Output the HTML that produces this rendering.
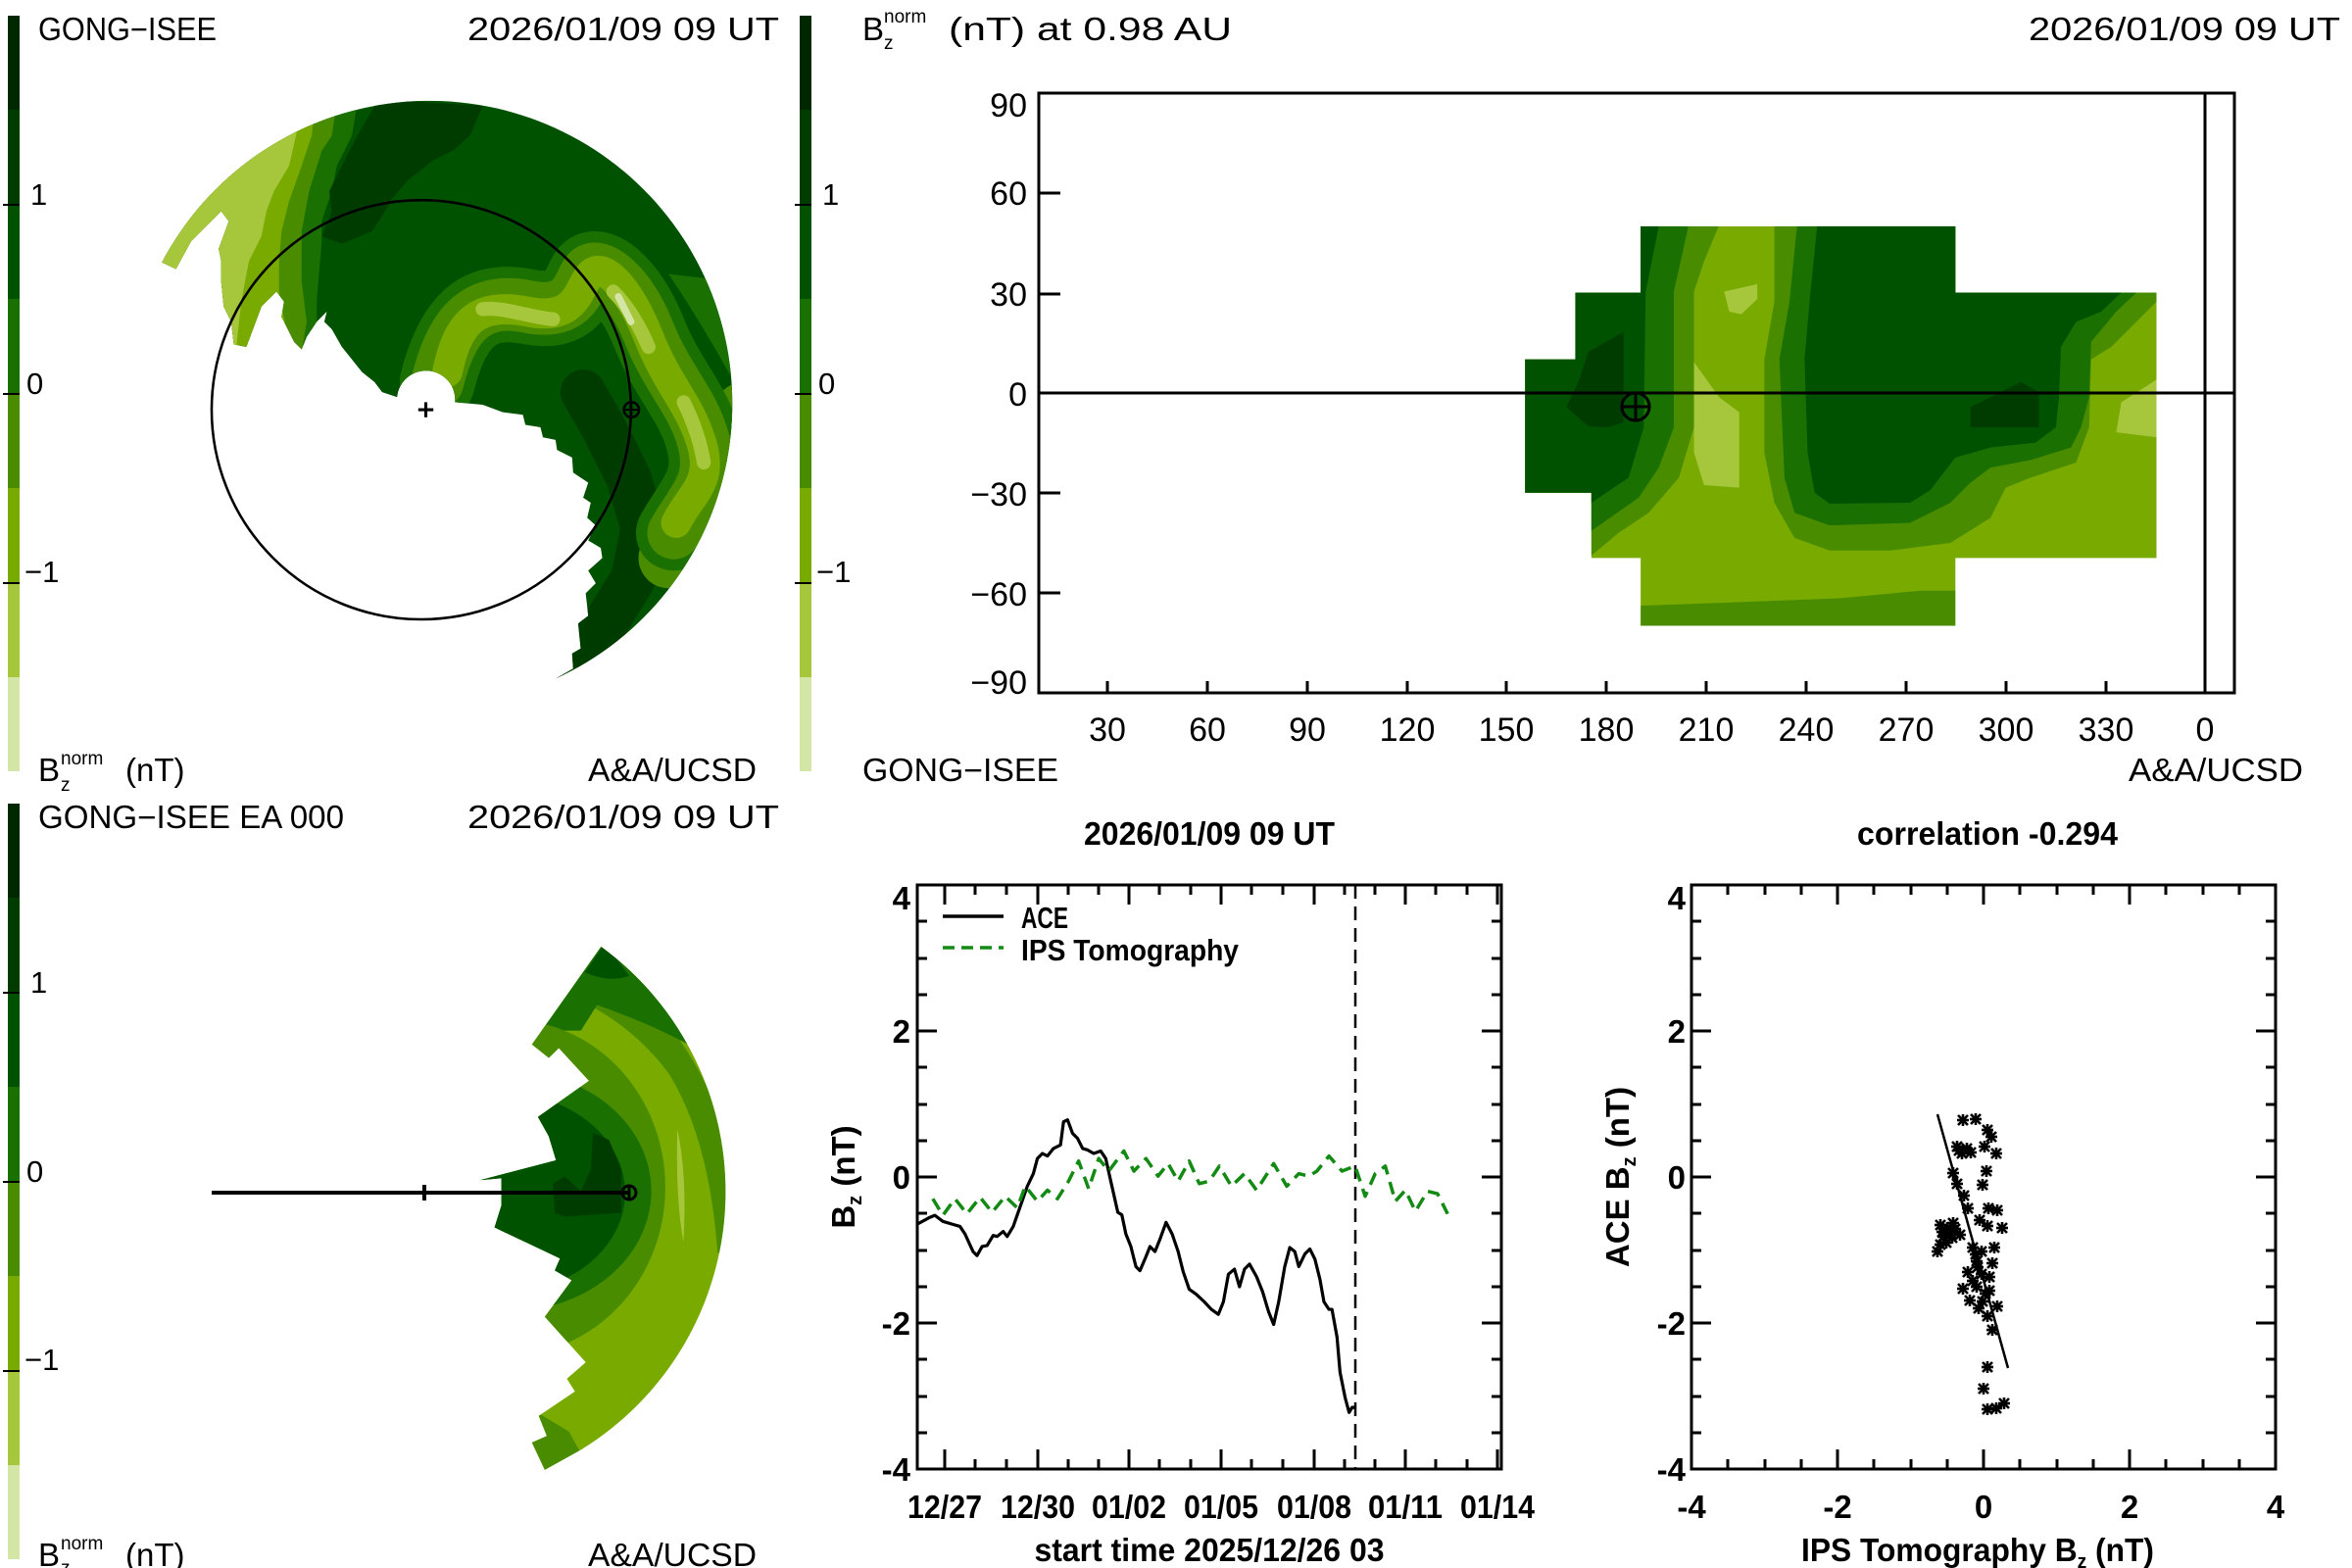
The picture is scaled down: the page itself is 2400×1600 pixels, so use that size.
<!DOCTYPE html>
<html><head><meta charset="utf-8"><style>html,body{margin:0;padding:0;background:#fff}svg{display:block}</style></head>
<body>
<svg xmlns="http://www.w3.org/2000/svg" xmlns:xlink="http://www.w3.org/1999/xlink" width="2400" height="1600" viewBox="0 0 2400 1600" font-family="Liberation Sans, sans-serif">
<defs>
<g id="cbar">
<rect x="8" y="16" width="12" height="97" fill="#002800"/>
<rect x="8" y="112" width="12" height="97" fill="#003c00"/>
<rect x="8" y="209" width="12" height="97" fill="#005200"/>
<rect x="8" y="305" width="12" height="97" fill="#1a7000"/>
<rect x="8" y="402" width="12" height="97" fill="#4a8c00"/>
<rect x="8" y="498" width="12" height="97" fill="#78aa00"/>
<rect x="8" y="595" width="12" height="97" fill="#a6c63c"/>
<rect x="8" y="691" width="12" height="96" fill="#d4e6a6"/>
<g stroke="#000" stroke-width="2"><line x1="3" y1="209" x2="20" y2="209"/><line x1="3" y1="402" x2="20" y2="402"/><line x1="3" y1="595" x2="20" y2="595"/></g>
<g font-size="31" fill="#000"><text x="31" y="209">1</text><text x="27" y="402">0</text><text x="25" y="594">−1</text></g>
</g>
<clipPath id="tlclip"><path d="M322,522 A602,602 0 1 1 1105,1350 L1140,1330 1138,1300 1155,1290 1150,1240 1170,1225 1165,1180 1185,1160 1170,1135 1198,1110 1195,1090 1170,1075 1185,1045 1168,1030 1175,1000 1160,990 1170,960 1140,940 1138,910 1108,895 1105,875 1080,870 1075,850 1045,845 1040,825 1000,820 960,805 905,800 A57,57 0 0 0 790,790 L760,780 745,760 720,740 700,715 680,690 660,655 645,640 650,620 630,640 610,670 600,695 585,680 575,660 560,630 565,600 550,580 520,610 490,690 465,685 460,640 445,610 440,560 440,520 435,495 455,440 440,420 420,440 380,480 350,535 Z"/></clipPath>
<clipPath id="trclip"><path d="M737,715 H787 V582 H852 V450 H1165 V582 H1365 V1110 H1165 V1245 H852 V1110 H803 V980 H737 Z"/></clipPath>
<clipPath id="blclip"><path d="M1130,70 A754,831 0 0 1 1080,1450 L990,1505 958,1430 995,1412 975,1357 1065,1290 1045,1255 1092,1210 990,1085 1057,985 1015,958 1028,925 865,840 882,780 882,705 830,710 1018,656 1000,590 973,537 1100,438 1025,348 1000,375 958,338 Z"/></clipPath>
<g id="ast" stroke="#000" stroke-width="2.6"><line x1="-5" y1="-5" x2="5" y2="5"/><line x1="-5" y1="5" x2="5" y2="-5"/><line x1="-6" y1="0" x2="6" y2="0"/><line x1="0" y1="-6" x2="0" y2="6"/></g>
</defs>

<!-- ============ TOP LEFT ============ -->
<use xlink:href="#cbar"/>
<g font-size="33" fill="#000">
<text x="39" y="41" textLength="182" lengthAdjust="spacingAndGlyphs">GONG−ISEE</text>
<text x="477" y="41" textLength="318" lengthAdjust="spacingAndGlyphs">2026/01/09 09 UT</text>
<text x="39" y="797">B</text><text x="62" y="780" font-size="19">norm</text><text x="62" y="807" font-size="19">z</text>
<text x="128" y="797">(nT)</text>
<text x="600" y="797" textLength="172" lengthAdjust="spacingAndGlyphs">A&amp;A/UCSD</text>
</g>
<g transform="scale(0.513)">
<g clip-path="url(#tlclip)">
<rect x="0" y="0" width="1560" height="1560" fill="#005200"/>
<path d="M0,0 H745 L700,270 670,330 660,380 640,440 640,480 630,600 V1560 H0Z" fill="#1a7000"/>
<path d="M0,0 H700 L660,270 640,300 615,380 600,460 600,560 610,640 600,700 V1560 H0Z" fill="#4a8c00"/>
<path d="M0,0 H650 L620,270 600,330 575,400 560,460 555,520 555,580 570,660 V1560 H0Z" fill="#78aa00"/>
<path d="M0,0 H560 L590,265 575,330 545,380 530,420 520,470 495,520 480,600 470,690 V1560 H0Z" fill="#a6c63c"/>
<path d="M790,200 L960,210 935,270 900,300 860,320 810,360 780,395 760,430 740,460 680,485 640,470 660,420 655,380 680,330 700,290 745,210Z" fill="#003c00"/>
<path d="M1330,545 Q1400,650 1460,760 L1460,560Z" fill="#1a7000"/>
<g fill="none" stroke-linecap="round" stroke-linejoin="round">
<path d="M1160,780 L1200,850 1250,950 1280,1050 1260,1150 1180,1280 1140,1330" stroke="#003c00" stroke-width="90"/>
<path d="M1480,820 Q1430,1000 1330,1110" stroke="#4a8c00" stroke-width="120"/>
<path d="M1460,880 Q1400,1000 1320,1080" stroke="#78aa00" stroke-width="60"/>
<path d="M870,760 C900,640 950,590 1050,610 S1150,560 1170,540 S1250,560 1290,660 S1380,800 1400,880 S1380,990 1340,1060" stroke="#1a7000" stroke-width="150"/>
<path d="M870,760 C900,640 950,590 1050,610 S1150,560 1170,540 S1250,560 1290,660 S1380,800 1400,880 S1380,990 1340,1060" stroke="#4a8c00" stroke-width="105"/>
<path d="M890,740 C910,640 950,600 1050,620 S1150,570 1175,545 S1250,570 1290,670 S1370,800 1395,880 S1375,980 1345,1040" stroke="#78aa00" stroke-width="60"/>
<path d="M960,615 C1000,610 1050,630 1100,635 M1220,580 Q1260,620 1290,690 M1360,800 Q1390,860 1400,920" stroke="#a6c63c" stroke-width="28"/>
<path d="M1230,590 L1255,640" stroke="#d4e6a6" stroke-width="14"/>
</g>
</g>
<circle cx="838" cy="815" r="417" fill="none" stroke="#000" stroke-width="5"/>
<g stroke="#000" stroke-width="6"><line x1="832" y1="815" x2="862" y2="815"/><line x1="847" y1="800" x2="847" y2="830"/></g>
<circle cx="1256" cy="815" r="15" fill="none" stroke="#000" stroke-width="5"/>
<g stroke="#000" stroke-width="4"><line x1="1240" y1="815" x2="1272" y2="815"/><line x1="1256" y1="799" x2="1256" y2="831"/></g>
</g>

<!-- ============ TOP RIGHT ============ -->
<g transform="translate(808,0)"><use xlink:href="#cbar"/></g>
<g font-size="33" fill="#000">
<text x="880" y="41">B</text><text x="902" y="23" font-size="19">norm</text><text x="902" y="50" font-size="19">z</text>
<text x="968" y="41" textLength="289" lengthAdjust="spacingAndGlyphs">(nT) at 0.98 AU</text>
<text x="2070" y="41" textLength="318" lengthAdjust="spacingAndGlyphs">2026/01/09 09 UT</text>
<text x="880" y="797" textLength="200" lengthAdjust="spacingAndGlyphs">GONG−ISEE</text>
<text x="2172" y="797" textLength="178" lengthAdjust="spacingAndGlyphs">A&amp;A/UCSD</text>
</g>
<g transform="translate(800,0) scale(1.026,0.513)">
<g clip-path="url(#trclip)">
<rect x="700" y="400" width="700" height="900" fill="#78aa00"/>
<path d="M700,400 H940 L915,520 905,580 905,850 890,950 860,1020 830,1060 800,1110 H700Z" fill="#4a8c00"/>
<path d="M700,400 H905 L885,580 885,850 870,930 850,990 800,1060 H700Z" fill="#1a7000"/>
<path d="M700,400 H870 L870,450 857,580 855,850 840,950 803,1000 H700Z" fill="#005200"/>
<path d="M778,810 L790,760 800,700 835,660 835,840 820,850 800,848Z" fill="#003c00"/>
<path d="M905,720 L930,790 950,820 950,970 915,965 905,900Z M935,580 L968,565 968,595 952,625 940,620Z" fill="#a6c63c"/>
<path d="M985,400 H1400 L1365,600 1340,650 1320,690 1300,715 1298,850 1285,920 1240,950 1215,970 1200,1030 1160,1080 1100,1095 1040,1095 1005,1070 985,1000 975,900 975,715 985,600Z" fill="#4a8c00"/>
<path d="M1010,400 H1400 L1345,582 1325,620 1300,680 1298,790 1290,850 1280,890 1240,915 1200,930 1180,960 1160,1000 1120,1040 1040,1045 1005,1020 995,950 990,715 1000,600Z" fill="#1a7000"/>
<path d="M1030,400 H1400 L1330,582 1310,620 1285,640 1270,690 1268,790 1265,850 1245,880 1200,890 1165,910 1140,975 1120,1000 1040,1002 1025,980 1018,900 1015,715 1020,600Z" fill="#005200"/>
<path d="M1180,850 L1180,810 1200,790 1230,760 1248,780 1248,850Z" fill="#003c00"/>
<path d="M1330,800 L1365,755 1365,870 1325,860Z" fill="#a6c63c"/>
<path d="M852,1205 L1050,1190 1130,1175 1165,1175 1165,1245 852,1245Z" fill="#4a8c00"/>
</g>
</g>
<!-- axes box -->
<g stroke="#000" fill="none">
<rect x="1060" y="95" width="1220" height="612" stroke-width="3"/>
<line x1="2250" y1="95" x2="2250" y2="707" stroke-width="3"/>
<line x1="1060" y1="401" x2="2280" y2="401" stroke-width="3"/>
<g stroke-width="3">
<line x1="1060" y1="197" x2="1082" y2="197"/><line x1="1060" y1="300" x2="1082" y2="300"/><line x1="1060" y1="401" x2="1082" y2="401"/><line x1="1060" y1="503" x2="1082" y2="503"/><line x1="1060" y1="605" x2="1082" y2="605"/>
<line x1="1130" y1="707" x2="1130" y2="695"/><line x1="1232" y1="707" x2="1232" y2="695"/><line x1="1334" y1="707" x2="1334" y2="695"/><line x1="1436" y1="707" x2="1436" y2="695"/><line x1="1537" y1="707" x2="1537" y2="695"/><line x1="1639" y1="707" x2="1639" y2="695"/><line x1="1741" y1="707" x2="1741" y2="695"/><line x1="1843" y1="707" x2="1843" y2="695"/><line x1="1945" y1="707" x2="1945" y2="695"/><line x1="2047" y1="707" x2="2047" y2="695"/><line x1="2149" y1="707" x2="2149" y2="695"/><line x1="2250" y1="707" x2="2250" y2="695"/>
</g>
<circle cx="1669" cy="415" r="14" stroke-width="3"/>
<line x1="1655" y1="415" x2="1683" y2="415" stroke-width="3"/><line x1="1669" y1="401" x2="1669" y2="429" stroke-width="3"/>
</g>
<g font-size="34" fill="#000" text-anchor="end">
<text x="1048" y="119">90</text><text x="1048" y="209">60</text><text x="1048" y="312">30</text><text x="1048" y="414">0</text><text x="1048" y="516">−30</text><text x="1048" y="618">−60</text><text x="1048" y="708">−90</text>
</g>
<g font-size="34" fill="#000" text-anchor="middle">
<text x="1130" y="756">30</text><text x="1232" y="756">60</text><text x="1334" y="756">90</text><text x="1436" y="756">120</text><text x="1537" y="756">150</text><text x="1639" y="756">180</text><text x="1741" y="756">210</text><text x="1843" y="756">240</text><text x="1945" y="756">270</text><text x="2047" y="756">300</text><text x="2149" y="756">330</text><text x="2250" y="756">0</text>
</g>

<!-- ============ BOTTOM LEFT ============ -->
<g transform="translate(0,804)"><use xlink:href="#cbar"/></g>
<g font-size="33" fill="#000">
<text x="39" y="845" textLength="312" lengthAdjust="spacingAndGlyphs">GONG−ISEE EA 000</text>
<text x="477" y="845" textLength="318" lengthAdjust="spacingAndGlyphs">2026/01/09 09 UT</text>
<text x="39" y="1598">B</text><text x="62" y="1581" font-size="19">norm</text><text x="62" y="1606" font-size="19">z</text>
<text x="128" y="1598">(nT)</text>
<text x="600" y="1598" textLength="172" lengthAdjust="spacingAndGlyphs">A&amp;A/UCSD</text>
</g>
<g transform="translate(150,940) scale(0.41,0.372)">
<g clip-path="url(#blclip)">
<rect x="800" y="0" width="700" height="1560" fill="#78aa00"/>
<path d="M1150,120 Q1380,330 1440,600 L1450,900 1420,910 Q1400,600 1300,420 Q1220,300 1100,230Z" fill="#4a8c00"/>
<path d="M900,0 H1500 L1350,340 Q1250,280 1120,230 L1080,300 900,300Z" fill="#1a7000"/>
<path d="M1090,140 Q1150,170 1200,150 L1140,60Z" fill="#005200"/>
<ellipse cx="900" cy="730" rx="390" ry="460" fill="#4a8c00"/>
<ellipse cx="900" cy="740" rx="355" ry="330" fill="#1a7000"/>
<ellipse cx="880" cy="745" rx="310" ry="275" fill="#005200"/>
<path d="M1010,720 L1040,700 1080,740 1105,680 1110,580 1150,600 1180,680 1180,800 1040,810 1015,800Z" fill="#003c00"/>
<path d="M1320,570 Q1345,700 1335,880 Q1315,760 1320,570Z" fill="#a6c63c"/>
<path d="M960,1340 L1050,1400 1080,1460 990,1510 950,1420Z" fill="#4a8c00"/>
</g>
</g>
<line x1="216" y1="1217" x2="642" y2="1217" stroke="#000" stroke-width="4"/>
<line x1="433" y1="1209" x2="433" y2="1225" stroke="#000" stroke-width="4"/>
<circle cx="642" cy="1217" r="7" fill="none" stroke="#000" stroke-width="3"/>
<line x1="642" y1="1210" x2="642" y2="1224" stroke="#000" stroke-width="3"/>

<!-- ============ BOTTOM MIDDLE: time series ============ -->
<g fill="#000" font-weight="bold" font-size="33">
<text x="1234" y="862" text-anchor="middle" textLength="256" lengthAdjust="spacingAndGlyphs">2026/01/09 09 UT</text>
<text x="2028" y="862" text-anchor="middle" textLength="266" lengthAdjust="spacingAndGlyphs">correlation -0.294</text>
<text x="1234" y="1593" text-anchor="middle" textLength="357" lengthAdjust="spacingAndGlyphs">start time 2025/12/26 03</text>
<text x="1838" y="1593" textLength="360" lengthAdjust="spacingAndGlyphs">IPS Tomography B<tspan font-size="20" dy="7">z</tspan><tspan dy="-7"> (nT)</tspan></text>
<g text-anchor="end">
<text x="929" y="928">4</text><text x="929" y="1064">2</text><text x="929" y="1213">0</text><text x="929" y="1362">-2</text><text x="929" y="1511">-4</text>
<text x="1720" y="928">4</text><text x="1720" y="1064">2</text><text x="1720" y="1213">0</text><text x="1720" y="1362">-2</text><text x="1720" y="1511">-4</text>
</g>
<g text-anchor="middle">
<text x="964" y="1549" textLength="76" lengthAdjust="spacingAndGlyphs">12/27</text>
<text x="1059" y="1549" textLength="76" lengthAdjust="spacingAndGlyphs">12/30</text>
<text x="1152" y="1549" textLength="76" lengthAdjust="spacingAndGlyphs">01/02</text>
<text x="1246" y="1549" textLength="76" lengthAdjust="spacingAndGlyphs">01/05</text>
<text x="1341" y="1549" textLength="76" lengthAdjust="spacingAndGlyphs">01/08</text>
<text x="1434" y="1549" textLength="76" lengthAdjust="spacingAndGlyphs">01/11</text>
<text x="1528" y="1549" textLength="76" lengthAdjust="spacingAndGlyphs">01/14</text>
<text x="1726" y="1549">-4</text><text x="1875" y="1549">-2</text><text x="2024" y="1549">0</text><text x="2173" y="1549">2</text><text x="2322" y="1549">4</text>
</g>
<text transform="translate(872,1201) rotate(-90)" text-anchor="middle">B<tspan font-size="20" dy="7">z</tspan><tspan dy="-7"> (nT)</tspan></text>
<text transform="translate(1662,1201) rotate(-90)" text-anchor="middle">ACE B<tspan font-size="20" dy="7">z</tspan><tspan dy="-7"> (nT)</tspan></text>
<text x="1042" y="947" font-size="31" textLength="48" lengthAdjust="spacingAndGlyphs">ACE</text>
<text x="1042" y="980" font-size="31" textLength="222" lengthAdjust="spacingAndGlyphs">IPS Tomography</text>
</g>
<line x1="962" y1="935" x2="1024" y2="935" stroke="#000" stroke-width="3.5"/>
<line x1="962" y1="967" x2="1024" y2="967" stroke="#138a13" stroke-width="3.5" stroke-dasharray="12,7"/>

<g fill="none" stroke="#000" stroke-width="3">
<rect x="936" y="903" width="596" height="596"/>
<rect x="1726" y="903" width="596" height="596"/>
<!-- left plot y ticks -->
<path d="M936,903h20M936,1052h20M936,1201h20M936,1350h20M936,1499h20 M936,940h10M936,978h10M936,1015h10M936,1089h10M936,1127h10M936,1164h10M936,1238h10M936,1276h10M936,1313h10M936,1387h10M936,1425h10M936,1462h10
M1532,903h-20M1532,1052h-20M1532,1201h-20M1532,1350h-20M1532,1499h-20 M1532,940h-10M1532,978h-10M1532,1015h-10M1532,1089h-10M1532,1127h-10M1532,1164h-10M1532,1238h-10M1532,1276h-10M1532,1313h-10M1532,1387h-10M1532,1425h-10M1532,1462h-10"/>
<path d="M964,1499v-20M1059,1499v-20M1152,1499v-20M1246,1499v-20M1341,1499v-20M1434,1499v-20M1528,1499v-20
M964,903v20M1059,903v20M1152,903v20M1246,903v20M1341,903v20M1434,903v20M1528,903v20
M995,1499v-10M1027,1499v-10M1090,1499v-10M1121,1499v-10M1183,1499v-10M1215,1499v-10M1277,1499v-10M1309,1499v-10M1372,1499v-10M1403,1499v-10M1465,1499v-10M1497,1499v-10
M995,903v10M1027,903v10M1090,903v10M1121,903v10M1183,903v10M1215,903v10M1277,903v10M1309,903v10M1372,903v10M1403,903v10M1465,903v10M1497,903v10"/>
<!-- right plot ticks -->
<path d="M1726,903h20M1726,1052h20M1726,1201h20M1726,1350h20M1726,1499h20 M1726,940h10M1726,978h10M1726,1015h10M1726,1089h10M1726,1127h10M1726,1164h10M1726,1238h10M1726,1276h10M1726,1313h10M1726,1387h10M1726,1425h10M1726,1462h10
M2322,903h-20M2322,1052h-20M2322,1201h-20M2322,1350h-20M2322,1499h-20 M2322,940h-10M2322,978h-10M2322,1015h-10M2322,1089h-10M2322,1127h-10M2322,1164h-10M2322,1238h-10M2322,1276h-10M2322,1313h-10M2322,1387h-10M2322,1425h-10M2322,1462h-10"/>
<path d="M1875,1499v-20M2024,1499v-20M2173,1499v-20M1875,903v20M2024,903v20M2173,903v20
M1763,1499v-10M1801,1499v-10M1838,1499v-10M1912,1499v-10M1950,1499v-10M1987,1499v-10M2061,1499v-10M2099,1499v-10M2136,1499v-10M2210,1499v-10M2248,1499v-10M2285,1499v-10
M1763,903v10M1801,903v10M1838,903v10M1912,903v10M1950,903v10M1987,903v10M2061,903v10M2099,903v10M2136,903v10M2210,903v10M2248,903v10M2285,903v10"/>
</g>
<line x1="1383" y1="903" x2="1383" y2="1499" stroke="#000" stroke-width="2.5" stroke-dasharray="14,8"/>

<g transform="translate(800,800) scale(1.026,0.513)" fill="none" stroke-linejoin="round">
<polyline vector-effect="non-scaling-stroke" stroke="#000" stroke-width="3.2" points="133,875 145,862 150,858 158,870 168,876 175,880 180,895 188,930 192,938 197,920 202,918 208,898 212,900 218,890 222,900 228,880 235,840 242,800 248,775 252,745 257,735 262,740 268,725 275,718 278,672 282,668 287,695 292,705 297,725 302,728 308,735 315,730 320,745 325,790 332,852 336,857 340,895 345,920 350,960 354,968 360,940 364,920 369,930 374,905 380,872 386,895 392,930 397,970 403,1005 410,1015 418,1030 425,1045 432,1055 437,1030 442,975 448,965 453,1000 458,965 463,955 470,980 476,1010 482,1050 487,1075 492,1030 498,960 503,922 508,930 512,960 518,935 523,925 528,945 533,985 537,1030 542,1045 545,1045 550,1100 553,1170 558,1220 562,1250 565,1240 568,1240"/>
<polyline vector-effect="non-scaling-stroke" stroke="#138a13" stroke-width="3.5" stroke-dasharray="13,8" points="148,825 158,858 170,825 182,855 195,822 207,852 220,820 232,843 240,800 252,830 262,808 272,825 283,790 293,750 303,805 313,745 323,770 338,730 348,770 360,745 372,780 382,755 392,790 403,750 413,795 423,790 433,760 445,800 458,775 470,808 487,755 500,800 512,775 522,780 530,770 542,740 555,770 568,760 578,820 588,775 598,760 608,830 618,808 628,850 640,810 650,815 660,855"/>
</g>

<!-- scatter -->
<line x1="1977" y1="1137" x2="2049" y2="1396" stroke="#000" stroke-width="2.5"/>
<g>
<use xlink:href="#ast" x="2003" y="1143"/><use xlink:href="#ast" x="2016" y="1142"/><use xlink:href="#ast" x="2028" y="1153"/><use xlink:href="#ast" x="2032" y="1160"/><use xlink:href="#ast" x="1997" y="1170"/><use xlink:href="#ast" x="2002" y="1177"/><use xlink:href="#ast" x="2007" y="1172"/><use xlink:href="#ast" x="2025" y="1170"/><use xlink:href="#ast" x="2037" y="1177"/><use xlink:href="#ast" x="1999" y="1174"/><use xlink:href="#ast" x="2011" y="1176"/>
<use xlink:href="#ast" x="1993" y="1197"/><use xlink:href="#ast" x="2027" y="1195"/><use xlink:href="#ast" x="2023" y="1209"/><use xlink:href="#ast" x="1997" y="1208"/><use xlink:href="#ast" x="2004" y="1220"/><use xlink:href="#ast" x="2008" y="1233"/><use xlink:href="#ast" x="2029" y="1233"/><use xlink:href="#ast" x="2038" y="1235"/><use xlink:href="#ast" x="2020" y="1245"/><use xlink:href="#ast" x="2028" y="1251"/><use xlink:href="#ast" x="2043" y="1253"/>
<use xlink:href="#ast" x="1980" y="1250"/><use xlink:href="#ast" x="1987" y="1253"/><use xlink:href="#ast" x="1993" y="1248"/><use xlink:href="#ast" x="1983" y="1262"/><use xlink:href="#ast" x="1992" y="1263"/><use xlink:href="#ast" x="1977" y="1277"/><use xlink:href="#ast" x="2000" y="1260"/><use xlink:href="#ast" x="1982" y="1257"/><use xlink:href="#ast" x="1990" y="1258"/><use xlink:href="#ast" x="1986" y="1268"/><use xlink:href="#ast" x="1995" y="1254"/><use xlink:href="#ast" x="1980" y="1270"/>
<use xlink:href="#ast" x="2013" y="1273"/><use xlink:href="#ast" x="2022" y="1277"/><use xlink:href="#ast" x="2035" y="1273"/><use xlink:href="#ast" x="2017" y="1287"/><use xlink:href="#ast" x="2033" y="1289"/><use xlink:href="#ast" x="2008" y="1298"/><use xlink:href="#ast" x="2022" y="1300"/><use xlink:href="#ast" x="2030" y="1303"/><use xlink:href="#ast" x="2003" y="1315"/><use xlink:href="#ast" x="2017" y="1313"/><use xlink:href="#ast" x="2030" y="1317"/><use xlink:href="#ast" x="2010" y="1327"/><use xlink:href="#ast" x="2023" y="1328"/><use xlink:href="#ast" x="2038" y="1333"/><use xlink:href="#ast" x="2028" y="1343"/><use xlink:href="#ast" x="2033" y="1357"/><use xlink:href="#ast" x="2018" y="1293"/><use xlink:href="#ast" x="2013" y="1307"/><use xlink:href="#ast" x="2016" y="1280"/><use xlink:href="#ast" x="2026" y="1320"/><use xlink:href="#ast" x="2019" y="1335"/>
<use xlink:href="#ast" x="2028" y="1395"/><use xlink:href="#ast" x="2024" y="1417"/><use xlink:href="#ast" x="2028" y="1438"/><use xlink:href="#ast" x="2037" y="1437"/><use xlink:href="#ast" x="2045" y="1432"/>
</g>
</svg>
</body></html>
